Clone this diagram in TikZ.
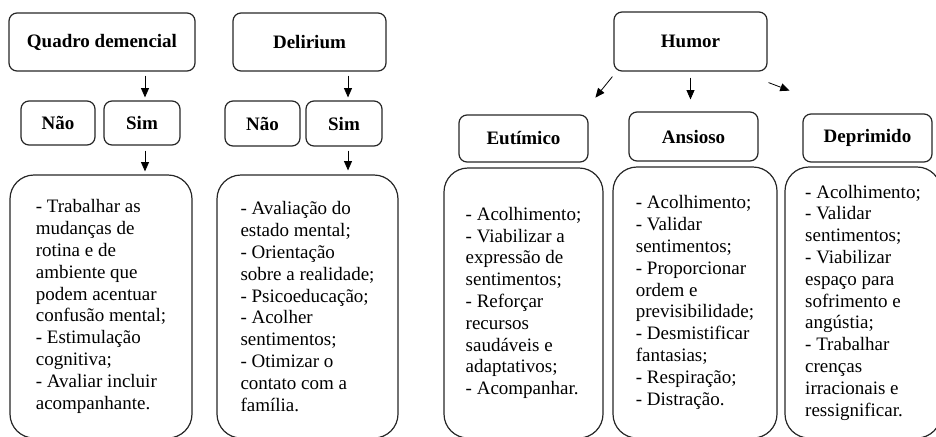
\documentclass[tikz,border=0pt]{standalone}
\usepackage{fontspec}
\setmainfont{Liberation Serif}
\usetikzlibrary{arrows.meta,calc}

\begin{document}
\begin{tikzpicture}[
                    x=0.75pt,
                    y=-0.75pt,
                    -{Triangle[length=7pt,width=6pt]},
                    line width=0.6pt,
                    font=\fontsize{14.25}{16.35}\selectfont
                ]
                \tikzstyle{titulo}=[
                    draw=black!85,
                    line width=0.9pt,
                    rounded corners=6pt,
                    font=\fontsize{14.25}{16.35}\selectfont\bfseries
                ]
                \tikzstyle{lista}=[
                    draw=black!85,
                    line width=0.9pt,
                    rounded corners=18pt,
                    align=left
                ]

                \useasboundingbox (0,0) rectangle (936,436);
                \clip (0,0) rectangle (936,436);

                % quadro demencial
                \node[titulo, minimum width=139.5pt, minimum height=43.5pt] (quadro) at (102,42) {Quadro demencial};
                \node[titulo, minimum width=55.5pt, minimum height=33pt] (nao1) at (58,123) {Não};
                \node[titulo, minimum width=57pt, minimum height=33pt] (sim1) at (142,123) {Sim};
                \node[lista, minimum width=136.5pt, minimum height=197.25pt] (acoes1) at (101,306.5)
                    {- Trabalhar as\\mudanças de\\rotina e de\\ambiente que\\podem acentuar\\confusão mental;\\- Estimulação\\cognitiva;\\- Avaliar incluir\\acompanhante.};

                % delirium
                \node[titulo, minimum width=114.75pt, minimum height=43.5pt] (delirium) at (309.5,42) {Delirium};
                \node[titulo, minimum width=56.25pt, minimum height=33.75pt] (nao2) at (262.5,123.5) {Não};
                \node[titulo, minimum width=57pt, minimum height=33.75pt] (sim2) at (344,123.5) {Sim};
                \node[lista, minimum width=135.75pt, minimum height=197.25pt] (acoes2) at (307.5,306.5)
                    {- Avaliação do\\estado mental;\\- Orientação\\sobre a realidade;\\- Psicoeducação;\\- Acolher\\sentimentos;\\- Otimizar o\\contato com a\\família.};

                % humor
                \node[titulo, minimum width=114.75pt, minimum height=44.25pt] (humor) at (690.5,41.5) {Humor};
                \node[titulo, minimum width=96.75pt, minimum height=35.25pt] (eutimico) at (523.5,138.5) {Eutímico};
                \node[titulo, minimum width=96.75pt, minimum height=36.75pt] (ansioso) at (693.5,136.5) {Ansioso};
                \node[titulo, minimum width=96.75pt, minimum height=36pt] (deprimido) at (867.5,138) {Deprimido};
                \node[lista, minimum width=119.25pt, minimum height=202.5pt] (acoes3) at (523.5,303)
                    {- Acolhimento;\\- Viabilizar a\\expressão de\\sentimentos;\\- Reforçar\\recursos\\saudáveis e\\adaptativos;\\- Acompanhar.};
                \node[lista, minimum width=123pt, minimum height=203.25pt] (acoes4) at (695,302.5)
                    {- Acolhimento;\\- Validar\\sentimentos;\\- Proporcionar\\ordem e\\previsibilidade;\\- Desmistificar\\fantasias;\\- Respiração;\\- Distração.};
                \node[lista, minimum width=117pt, minimum height=203.25pt] (acoes5) at (863,302.5)
                    {- Acolhimento;\\- Validar\\sentimentos;\\- Viabilizar\\espaço para\\sofrimento e\\angústia;\\- Trabalhar\\crenças\\irracionais e\\ressignificar.};

                \path
                ($(quadro.south -| sim1.north)+(3,0)$) edge [shorten <=3pt, shorten >=2.25pt]
                    ($(sim1.north)+(3,0)$)
                ($(sim1.south)+(3,0)$) edge [shorten <=3.75pt, shorten >=2.25pt]
                    ($(sim1.south |- acoes1.north)+(3,0)$)
                ($(delirium.south -| sim2.north)+(4,0)$) edge [shorten <=3pt, shorten >=2.25pt]
                    ($(sim2.north)+(4,0)$)
                ($(sim2.south)+(4,0)$) edge [shorten <=3pt, shorten >=3pt]
                    ($(sim2.south |- acoes2.north)+(4,0)$)
                ($(humor.south west)+(-1,5)$) edge
                    ($(humor.south west)+(-18,26)$)
                (humor.south) edge [shorten <=4.5pt, shorten >=9pt]
                    (humor.south |- ansioso.north)
                ($(humor.south east)+(1,11)$) edge
                    ($(humor.south east)+(22,19)$)
                ;
            \end{tikzpicture}
\end{document}
